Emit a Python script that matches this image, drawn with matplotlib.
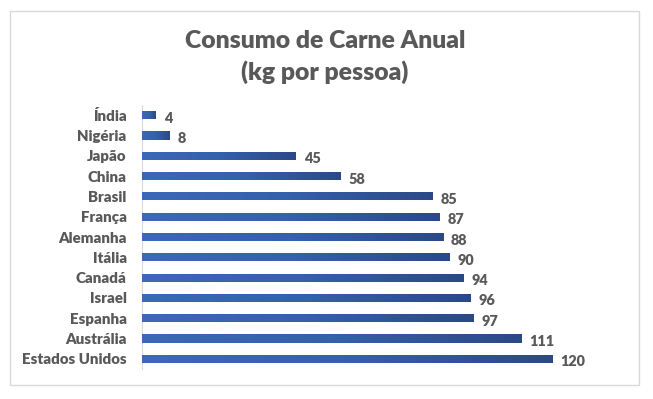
import matplotlib
matplotlib.use("Agg")
import matplotlib.pyplot as plt
import numpy as np
from matplotlib.colors import LinearSegmentedColormap
from matplotlib.patches import Rectangle

paises = ["Índia", "Nigéria", "Japão", "China", "Brasil", "França", "Alemanha",
          "Itália", "Canadá", "Israel", "Espanha", "Austrália", "Estados Unidos"]
consumo = [4, 8, 45, 58, 85, 87, 88, 90, 94, 96, 97, 111, 120]

title = "Consumo de Carne Anual\n(kg por pessoa)"
font = ["Lato", "DejaVu Sans"]
text_color = "#595959"

fig = plt.figure(figsize=(6.53, 3.99), dpi=100)
W, H = 653, 399

# outer frame
fig.patches.append(Rectangle((10 / W, 1 - 385 / H), 629 / W, 374 / H,
                             transform=fig.transFigure, fill=False,
                             edgecolor="#d9d9d9", linewidth=1.0))

ax = fig.add_axes([142 / W, 1 - 369 / H, (621 - 142) / W, (369 - 105) / H])
y = np.arange(len(paises))
bars = ax.barh(y, consumo, height=0.4, color="#34599f", zorder=2)

cmap = LinearSegmentedColormap.from_list("g", ["#3d67b8", "#3560ab", "#2b4987"])
grad = np.linspace(0, 1, 256).reshape(1, -1)
for b in bars:
    x0, y0 = b.get_x(), b.get_y()
    w, h = b.get_width(), b.get_height()
    im = ax.imshow(grad, cmap=cmap, aspect="auto", extent=(x0, x0 + w, y0, y0 + h),
                   zorder=3, interpolation="bilinear")
    im.set_clip_path(b)

for yi, v in zip(y, consumo):
    ax.text(v + 2.3, yi + 0.15, str(v), va="center", ha="left", fontsize=10.4,
            fontweight="heavy", color=text_color, family=font)

ax.set_xlim(0, 140)
ax.set_ylim(len(paises) - 0.5, -0.5)
ax.set_yticks(y)
ax.set_yticklabels(paises, fontsize=10.8, fontweight="heavy", color=text_color, family=font)
ax.tick_params(axis="y", length=0, pad=11)
ax.set_xticks([])
for s in ["top", "right", "bottom"]:
    ax.spines[s].set_visible(False)
ax.spines["left"].set_color("#d9d9d9")
ax.spines["left"].set_linewidth(0.8)

fig.text(325 / W, 1 - 57 / H, title, ha="center", va="center", fontsize=17.8,
         fontweight="heavy", color=text_color, family=font, linespacing=1.4)

fig.savefig("out.png", dpi=100)
